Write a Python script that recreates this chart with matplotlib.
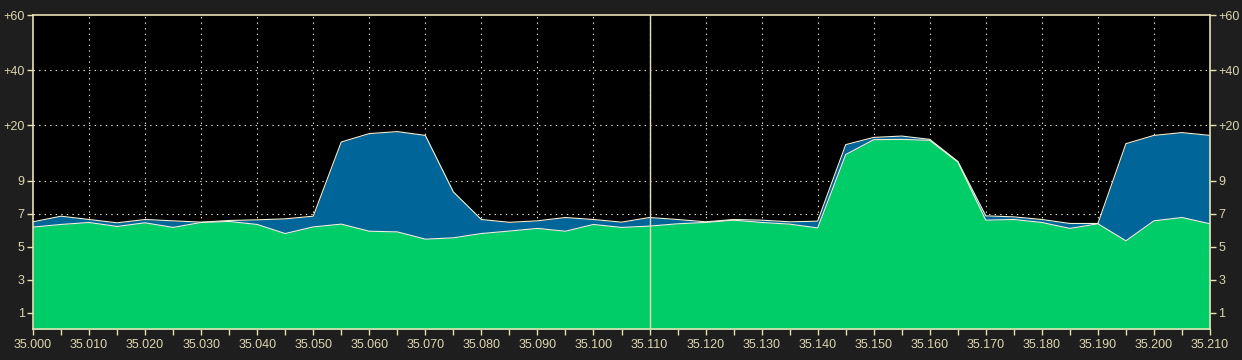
import numpy as np
import matplotlib
matplotlib.use("Agg")
import matplotlib.pyplot as plt

# Frequency axis (MHz), one sample every 5 kHz
freq_start = 35.000
freq_step = 0.005
n_points = 43

# Signal levels in display units (S-units; above S9 every 20 dB = 10/3 units)
peak_level = [6.50, 6.84, 6.64, 6.44, 6.64, 6.56, 6.48, 6.58, 6.62, 6.68,
              6.84, 11.33, 11.84, 11.96, 11.73, 8.31, 6.64, 6.47, 6.56, 6.76,
              6.64, 6.48, 6.76, 6.64, 6.50, 6.64, 6.60, 6.50, 6.54, 11.17,
              11.61, 11.69, 11.49, 10.16, 6.86, 6.80, 6.64, 6.40, 6.40, 11.23,
              11.73, 11.90, 11.73]
current_level = [6.18, 6.34, 6.46, 6.22, 6.44, 6.16, 6.46, 6.52, 6.34, 5.79,
                 6.19, 6.36, 5.93, 5.89, 5.45, 5.53, 5.79, 5.94, 6.10, 5.93,
                 6.34, 6.16, 6.24, 6.38, 6.46, 6.60, 6.46, 6.36, 6.13, 10.57,
                 11.47, 11.49, 11.43, 10.12, 6.60, 6.64, 6.46, 6.10, 6.38, 5.35,
                 6.56, 6.76, 6.38]

y_tick_pos = [1, 3, 5, 7, 9, 9 + 10 / 3, 9 + 20 / 3, 19]
y_tick_labels = ["1", "3", "5", "7", "9", "+20", "+40", "+60"]
cursor_freq = 35.110

freqs = freq_start + freq_step * np.arange(n_points)

cream = "#e9e1b4"
label_col = "#ddd6b0"
blue = "#00669a"
green = "#00cd67"
edge = "#eef0d8"

plt.rcParams["lines.scale_dashes"] = False
plt.rcParams["font.family"] = ["Liberation Sans", "DejaVu Sans"]

fig = plt.figure(figsize=(12.42, 3.60), dpi=100, facecolor="#1e1e1e")
ax = fig.add_axes([33 / 1242, 30.8 / 360, 1177 / 1242, 313.9 / 360])
ax.set_facecolor("black")

ax.set_xlim(freqs[0], freqs[-1])
ax.set_ylim(0, 19)

# grid
for f in np.arange(35.010, 35.2095, 0.010):
    ax.axvline(f, color="#e0e0d0", lw=0.8, ls=(0, (1, 3)), zorder=1)
for y in y_tick_pos[:-1]:
    ax.axhline(y, color="#e0e0d0", lw=0.8, ls=(0, (1, 3)), zorder=1)

ax.fill_between(freqs, 0, peak_level, color=blue, lw=0, zorder=2)
ax.plot(freqs, peak_level, color=edge, lw=0.8, zorder=3)
ax.fill_between(freqs, 0, current_level, color=green, lw=0, zorder=4)
ax.plot(freqs, current_level, color=edge, lw=0.8, zorder=5)

ax.axvline(cursor_freq, color=cream, lw=1.0, zorder=6)

for s in ax.spines.values():
    s.set_color(cream)
    s.set_linewidth(1.2)
    s.set_zorder(7)

xt = freqs
ax.set_xticks(xt)
ax.set_xticklabels([f"{f:.3f}" if i % 2 == 0 else "" for i, f in enumerate(xt)])
ax.set_yticks(y_tick_pos)
ax.set_yticklabels(y_tick_labels)
ax.tick_params(axis="both", colors=cream, labelcolor=label_col, length=4,
               width=1, labelsize=9, direction="out")
ax.tick_params(axis="x", pad=3)
ax.tick_params(axis="y", pad=2, left=True, right=True, labelleft=True,
               labelright=True)

fig.savefig("out.png", dpi=100, facecolor=fig.get_facecolor())
